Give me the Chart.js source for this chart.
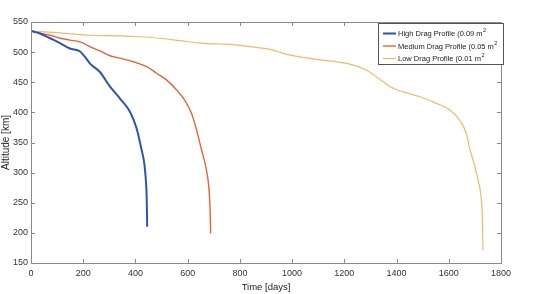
<!DOCTYPE html>
<html><head><meta charset="utf-8">
<script src="https://cdn.jsdelivr.net/npm/chart.js@4.4.1/dist/chart.umd.min.js"></script>
<style>html,body{margin:0;padding:0;background:#fff}#wrap{width:543px;height:294px}</style>
</head><body><div id="wrap"><canvas id="c" width="543" height="294"></canvas></div>
<script>
const highDays = [0, 34, 73, 111, 149, 188, 207, 226, 264, 302, 341, 379, 404, 424, 434, 440, 443, 445];
const highAlt  = [535, 531, 523, 515, 506, 501, 492, 481, 467, 443, 423, 401, 374, 337, 315, 287, 260, 210];
const medDays = [0, 40, 73, 111, 149, 188, 226, 264, 302, 341, 392, 443, 481, 519, 558, 589, 615, 634, 653, 672, 682, 686, 688];
const medAlt  = [535, 531, 528, 523, 520, 517, 509, 502, 494, 490, 484, 476, 465, 454, 437, 420, 398, 371, 338, 304, 271, 238, 199];
const lowDays = [0, 111, 226, 341, 417, 494, 570, 647, 717, 762, 838, 915, 966, 1030, 1093, 1170, 1221, 1285, 1336, 1374, 1425, 1489, 1553, 1604, 1642, 1667, 1680, 1693, 1712, 1725, 1729, 1731];
const lowAlt  = [535, 532, 528, 527, 525.5, 523, 519, 515, 513.5, 513, 509, 504.5, 498, 492, 488, 484, 480, 470, 455, 443, 434, 426, 415, 404, 387, 365, 340, 321, 288, 254, 221, 171];
const seriesNames = ["High Drag Profile (0.09 m", "Medium Drag Profile (0.05 m", "Low Drag Profile (0.01 m"];
const xTicks = [0, 200, 400, 600, 800, 1000, 1200, 1400, 1600, 1800];
const yTicks = [150, 200, 250, 300, 350, 400, 450, 500, 550];
const xTitle = "Time [days]";
const yTitle = "Altitude [km]";

const colors = ["#2b55b0", "#e0663a", "#f3b86a"];
const widths = [2, 1.4, 1.2];
const zip = (a, b) => a.map((v, i) => ({x: v, y: b[i]}));
const seriesData = [zip(highDays, highAlt), zip(medDays, medAlt), zip(lowDays, lowAlt)];

const framePlugin = {
  id: 'frame',
  afterDraw(chart) {
    const {ctx, chartArea: a, scales} = chart;
    ctx.save();
    ctx.strokeStyle = '#8a8a8a';
    ctx.lineWidth = 1;
    ctx.strokeRect(Math.round(a.left) + 0.5, Math.round(a.top) + 0.5, Math.round(a.right - a.left), Math.round(a.bottom - a.top));
    const tl = 4;
    ctx.beginPath();
    xTicks.forEach(t => {
      const px = Math.round(scales.x.getPixelForValue(t)) + 0.5;
      ctx.moveTo(px, a.bottom); ctx.lineTo(px, a.bottom - tl);
      ctx.moveTo(px, a.top); ctx.lineTo(px, a.top + tl);
    });
    yTicks.forEach(t => {
      const py = Math.round(scales.y.getPixelForValue(t)) + 0.5;
      ctx.moveTo(a.left, py); ctx.lineTo(a.left + tl, py);
      ctx.moveTo(a.right, py); ctx.lineTo(a.right - tl, py);
    });
    ctx.stroke();
    // legend
    const lx = 378, ly = 23, lw = 125, lh = 41;
    ctx.fillStyle = '#fff';
    ctx.fillRect(lx, ly, lw, lh);
    ctx.strokeStyle = '#555';
    ctx.strokeRect(lx + 0.5, ly + 0.5, lw, lh);
    ctx.font = '7.5px "Liberation Sans", Arial, sans-serif';
    ctx.textBaseline = 'middle';
    seriesNames.forEach((n, i) => {
      const y = ly + 10.5 + i * 12.5;
      ctx.strokeStyle = colors[i];
      ctx.lineWidth = widths[i];
      ctx.beginPath(); ctx.moveTo(383, y); ctx.lineTo(396, y); ctx.stroke();
      ctx.fillStyle = '#222';
      ctx.textAlign = 'left';
      ctx.fillText(n, 398, y + 0.5);
      const w = ctx.measureText(n).width;
      ctx.font = '5.5px "Liberation Sans", Arial, sans-serif';
      ctx.fillText('2', 398 + w + 0.5, y - 3);
      ctx.font = '7.5px "Liberation Sans", Arial, sans-serif';
    });
    ctx.restore();
  }
};

new Chart(document.getElementById('c'), {
  type: 'line',
  data: {
    datasets: seriesData.map((d, i) => ({
      label: seriesNames[i], data: d, borderColor: colors[i], borderWidth: widths[i],
      pointRadius: 0, cubicInterpolationMode: 'monotone', fill: false
    }))
  },
  options: {
    responsive: false, animation: false,
    layout: {padding: {top: 22, right: 42, left: 0, bottom: 0}},
    plugins: {legend: {display: false}, tooltip: {enabled: false}},
    scales: {
      x: {
        type: 'linear', min: 0, max: 1800,
        afterBuildTicks: s => { s.ticks = xTicks.map(v => ({value: v})); },
        grid: {display: false, drawTicks: false},
        border: {display: false},
        ticks: {color: '#333', font: {size: 9, family: '"Liberation Sans", Arial'}, padding: 5, maxRotation: 0, callback: v => String(v)},
        title: {display: true, text: xTitle, color: '#222', font: {size: 9.5, family: '"Liberation Sans", Arial'}, padding: {top: 1, bottom: 1}},
        afterFit: s => { s.height = 31; }
      },
      y: {
        type: 'linear', min: 150, max: 550,
        afterBuildTicks: s => { s.ticks = yTicks.map(v => ({value: v})); },
        grid: {display: false, drawTicks: false},
        border: {display: false},
        ticks: {color: '#333', font: {size: 9, family: '"Liberation Sans", Arial'}, padding: 3, callback: v => String(v)},
        title: {display: true, text: yTitle, color: '#222', font: {size: 10, family: '"Liberation Sans", Arial'}, padding: {top: 0, bottom: 0}},
        afterFit: s => { s.width = 31; }
      }
    }
  },
  plugins: [framePlugin]
});
</script></body></html>
